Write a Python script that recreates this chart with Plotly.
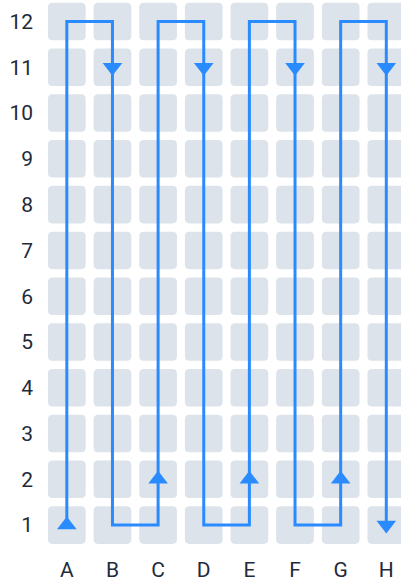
import plotly.graph_objects as go

columns = ["A", "B", "C", "D", "E", "F", "G", "H"]
rows = [1, 2, 3, 4, 5, 6, 7, 8, 9, 10, 11, 12]

# serpentine walk: up column A, down column B, up C, ...
path_cols = []
path_rows = []
for ci, c in enumerate(columns):
    seq = rows if ci % 2 == 0 else rows[::-1]
    for r in seq:
        path_cols.append(ci)
        path_rows.append(r)

arrow_cols = ["A", "B", "C", "D", "E", "F", "G", "H", "H"]
arrow_rows = [1, 11, 2, 11, 2, 11, 2, 11, 1]
arrow_dirs = ["up", "down", "up", "down", "up", "down", "up", "down", "down"]

CELL = "#dde3ea"
BLUE = "#2a8bff"
TXT = "#1f2b3a"

half_w = 0.413
half_h = 0.41
rad = 0.1

def rrect(x0, y0, x1, y1, rx, ry):
    return (f"M{x0+rx},{y0} L{x1-rx},{y0} Q{x1},{y0} {x1},{y0+ry} "
            f"L{x1},{y1-ry} Q{x1},{y1} {x1-rx},{y1} L{x0+rx},{y1} "
            f"Q{x0},{y1} {x0},{y1-ry} L{x0},{y0+ry} Q{x0},{y0} {x0+rx},{y0} Z")

shapes = []
for ci, c in enumerate(columns):
    for r in rows:
        shapes.append(dict(type="path", xref="x", yref="y", layer="below",
                           path=rrect(ci - half_w, r - half_h, ci + half_w, r + half_h, rad, rad),
                           fillcolor=CELL, line=dict(width=0)))

fig = go.Figure()
fig.add_trace(go.Scatter(x=path_cols, y=path_rows, mode="lines",
                         line=dict(color=BLUE, width=3), hoverinfo="skip"))
fig.add_trace(go.Scatter(x=[columns.index(c) for c in arrow_cols], y=arrow_rows, mode="markers",
                         marker=dict(symbol=["triangle-up" if d == "up" else "triangle-down" for d in arrow_dirs],
                                     size=17, color=BLUE, line=dict(width=0)),
                         hoverinfo="skip"))

fig.update_layout(
    width=401, height=583,
    margin=dict(l=44, r=0, t=0, b=35),
    paper_bgcolor="white", plot_bgcolor="white",
    showlegend=False,
    shapes=shapes,
    font=dict(family="Roboto", size=21, color=TXT),
    xaxis=dict(range=[-0.5, 7.322], tickvals=list(range(len(columns))), ticktext=columns,
               showgrid=False, zeroline=False, showline=False, ticks="", fixedrange=True,
               automargin=False, ticklabelstandoff=7),
    yaxis=dict(range=[0.5, 12.469], tickvals=rows, ticktext=[str(r) for r in rows],
               showgrid=False, zeroline=False, showline=False, ticks="", fixedrange=True,
               automargin=False, ticklabelstandoff=10),
)

fig.write_html(
    "out.html",
    config={"displayModeBar": False},
    post_script="document.body.style.margin='0';document.body.style.overflow='hidden';",
)
